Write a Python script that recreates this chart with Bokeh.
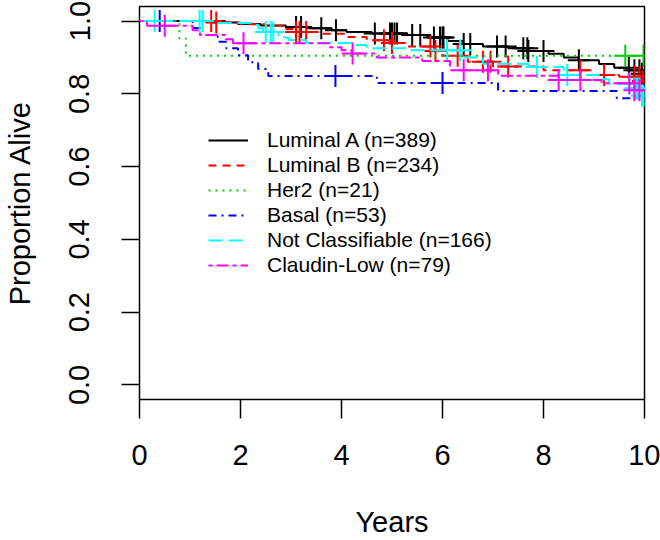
import bisect
from bokeh.plotting import figure
from bokeh.models import FixedTicker, Range1d
from bokeh.embed import file_html
from bokeh.resources import INLINE

# ---------------- data ----------------
x_ticks = [0, 2, 4, 6, 8, 10]
y_ticks = [0.0, 0.2, 0.4, 0.6, 0.8, 1.0]
y_tick_labels = ["0.0", "0.2", "0.4", "0.6", "0.8", "1.0"]

group_names = ["Luminal A (n=389)", "Luminal B (n=234)", "Her2 (n=21)",
               "Basal (n=53)", "Not Classifiable (n=166)", "Claudin-Low (n=79)"]
group_colors = ["#000000", "#FF0000", "#00CD00", "#0000FF", "#00FFFF", "#FF00FF"]
group_dashes = ["solid", "8 6", "2 5", "8 5 2 5", "14 6", "4 4 12 4"]

# event times (years) and survival after each event
lumA_t = [1.7, 1.95, 2.4, 2.9, 3.3, 3.8, 4.1, 4.6, 5.3, 5.7, 6.1, 6.4, 6.8, 7.3, 7.7, 8.1, 8.4, 8.7, 9.1, 9.4, 9.7, 9.95]
lumA_s = [0.996, 0.992, 0.988, 0.984, 0.98, 0.975, 0.97, 0.966, 0.962, 0.955, 0.945, 0.937, 0.93, 0.925, 0.918, 0.91, 0.9, 0.892, 0.882, 0.872, 0.865, 0.855]
lumA_c = [3.1, 3.2, 3.6, 3.89, 4.66, 4.96, 5.0, 5.05, 5.1, 5.4, 5.56, 5.83, 5.95, 6.0, 6.02, 6.42, 6.55, 7.08, 7.25, 7.6, 7.68, 7.7, 8.0, 8.7, 9.69, 9.8, 9.9, 9.95]

lumB_t = [1.45, 2.0, 2.5, 2.9, 3.05, 3.6, 4.1, 4.5, 4.95, 5.3, 5.8, 6.0, 6.5, 7.0, 8.0, 8.9, 9.5, 9.95]
lumB_s = [0.996, 0.991, 0.987, 0.978, 0.97, 0.965, 0.956, 0.947, 0.94, 0.93, 0.918, 0.905, 0.888, 0.875, 0.865, 0.852, 0.847, 0.835]
lumB_c = [1.42, 1.52, 3.1, 3.17, 3.3, 4.84, 5.0, 5.76, 5.86, 6.3, 6.8, 6.95, 7.3, 8.73, 9.2, 9.8, 9.9, 9.97]

her2_t = [0.79, 0.92]
her2_s = [0.952, 0.905]
her2_c = [9.62, 9.98]

basal_t = [1.05, 1.2, 1.55, 1.72, 1.95, 2.15, 2.35, 2.55, 4.7, 7.1, 9.45]
basal_s = [0.981, 0.962, 0.943, 0.925, 0.906, 0.887, 0.868, 0.849, 0.83, 0.808, 0.788]
basal_c = [0.4, 3.88, 6.0]

notc_t = [1.5, 2.2, 2.35, 2.45, 2.75, 2.95, 3.3, 4.2, 4.5, 5.3, 6.4, 6.8, 7.7, 8.4, 9.1, 9.3, 9.8, 9.95]
notc_s = [0.995, 0.99, 0.98, 0.97, 0.955, 0.948, 0.94, 0.934, 0.925, 0.92, 0.9, 0.883, 0.874, 0.852, 0.84, 0.828, 0.815, 0.795]
notc_c = [0.3, 1.19, 1.25, 2.5, 2.6, 2.65, 6.09, 6.35, 7.87, 8.47, 9.7, 9.8, 9.85, 9.9, 9.95, 9.99]

claud_t = [0.15, 1.05, 1.2, 1.7, 1.85, 3.75, 4.0, 4.2, 4.7, 5.6, 6.15, 7.1, 8.3, 9.15, 9.8]
claud_s = [0.987, 0.975, 0.962, 0.95, 0.939, 0.928, 0.92, 0.911, 0.9, 0.89, 0.865, 0.85, 0.838, 0.829, 0.81]
claud_c = [0.5, 2.06, 4.22, 6.42, 6.9, 8.3, 8.73, 9.7, 9.8, 9.9]

series = [(lumA_t, lumA_s, lumA_c), (lumB_t, lumB_s, lumB_c), (her2_t, her2_s, her2_c),
          (basal_t, basal_s, basal_c), (notc_t, notc_s, notc_c), (claud_t, claud_s, claud_c)]

x_start, x_end = 0.0, 10.0


def surv_at(times, surv, t):
    i = bisect.bisect_right(times, t)
    return 1.0 if i == 0 else surv[i - 1]


# ---------------- figure ----------------
FONT = "Liberation Sans"
p = figure(width=660, height=540,
           x_range=Range1d(0, 10), y_range=Range1d(-0.04, 1.04),
           output_backend="svg", toolbar_location=None,
           min_border_left=139, min_border_right=16,
           min_border_top=6, min_border_bottom=140)
p.grid.visible = False
p.outline_line_color = "black"
p.outline_line_width = 1.5
p.background_fill_color = "white"
p.border_fill_color = "white"

for (t, s, c), name, col, dash in zip(series, group_names, group_colors, group_dashes):
    xs = [x_start] + t + [x_end]
    ys = [1.0] + s + [s[-1]]
    p.step(xs, ys, mode="after", line_color=col, line_width=2, line_dash=dash,
           legend_label=name)
    cy = [surv_at(t, s, ci) for ci in c]
    p.scatter(c, cy, marker="cross", size=22, line_color=col, line_width=2)

for ax in (p.xaxis[0], p.yaxis[0]):
    ax.axis_line_color = None
    ax.major_tick_in = 0
    ax.major_tick_line_width = 1.5
    ax.major_tick_line_color = "black"
    ax.minor_tick_line_color = None
    ax.major_label_text_font = FONT
    ax.major_label_text_font_size = "29px"
    ax.major_label_text_color = "black"
    ax.axis_label_text_font = FONT
    ax.axis_label_text_font_size = "29px"
    ax.axis_label_text_font_style = "normal"
    ax.axis_label_text_color = "black"

p.xaxis.ticker = FixedTicker(ticks=x_ticks)
p.xaxis.major_tick_out = 19
p.xaxis.major_label_standoff = 26
p.xaxis.axis_label = "Years"
p.xaxis.axis_label_standoff = 38

p.yaxis.ticker = FixedTicker(ticks=y_ticks)
p.yaxis.major_label_overrides = dict(zip(y_ticks, y_tick_labels))
p.yaxis.major_label_orientation = "vertical"
p.yaxis.major_tick_out = 18
p.yaxis.major_label_standoff = 32
p.yaxis.major_label_text_line_height = 1.0
p.yaxis.axis_label = "Proportion Alive"
p.yaxis.axis_label_text_line_height = 1.0
p.yaxis.axis_label_standoff = 31

lg = p.legend[0]
lg.location = (69, 122)
lg.border_line_color = None
lg.background_fill_alpha = 0
lg.padding = 0
lg.margin = 0
lg.spacing = 1
lg.glyph_width = 40
lg.glyph_height = 24
lg.label_height = 24
lg.label_standoff = 19
lg.label_text_font = FONT
lg.label_text_font_size = "21px"
lg.label_text_color = "black"

open("out.html", "w").write(file_html(p, INLINE))
